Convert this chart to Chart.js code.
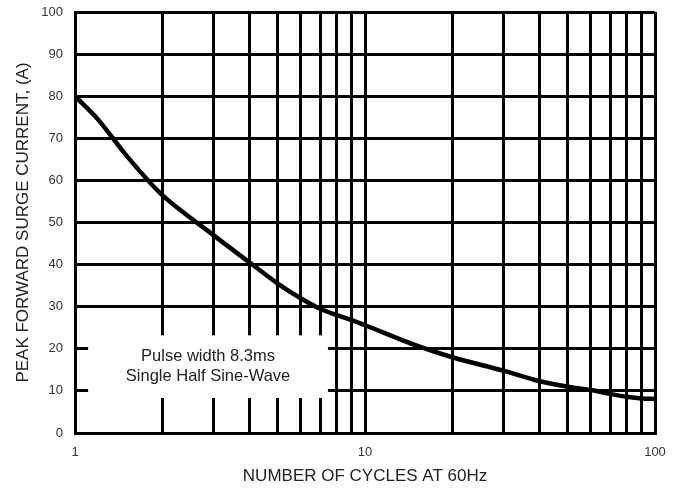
<!DOCTYPE html>
<html>
<head>
<meta charset="utf-8">
<title>Peak Forward Surge Current</title>
<script src="https://cdn.jsdelivr.net/npm/chart.js@4/dist/chart.umd.min.js"></script>
<style>
  html, body { margin: 0; padding: 0; background: #fff; }
  #wrap { width: 686px; height: 492px; }
</style>
</head>
<body>
<div id="wrap"><canvas id="chart"></canvas></div>
<script>
// Curve (number of cycles -> peak current, A)
const cycles  = [1, 1.2, 1.5, 2, 3, 4, 5, 6, 7, 8, 9, 10, 15, 20, 30, 40, 50, 60, 70, 80, 90, 100];
const current = [80, 74.5, 66, 56.5, 47, 40.5, 35.5, 32, 29.5, 28, 26.8, 25.6, 20.8, 18, 14.8, 12.3, 11, 10.2, 9.3, 8.6, 8.2, 8.1];

// Axis ticks
const xGridTicks = [1, 2, 3, 4, 5, 6, 7, 8, 9, 10, 20, 30, 40, 50, 60, 70, 80, 90, 100];
const xTickLabels = [1, 10, 100];
const yTicks = [0, 10, 20, 30, 40, 50, 60, 70, 80, 90, 100];

// Note box (in data units) and its text
const noteLines = ['Pulse width 8.3ms', 'Single Half Sine-Wave'];
const noteRange = { xMin: 1.11, xMax: 7.45, yMin: 8.3, yMax: 23.2 };

const FONT = "'Liberation Sans', Arial, sans-serif";

// White box over the grid with the pulse note
const notePlugin = {
  id: 'note',
  beforeDatasetsDraw(chart) {
    const { ctx, scales: { x, y } } = chart;
    const l = x.getPixelForValue(noteRange.xMin);
    const r = x.getPixelForValue(noteRange.xMax);
    const t = y.getPixelForValue(noteRange.yMax);
    const b = y.getPixelForValue(noteRange.yMin);
    ctx.save();
    ctx.fillStyle = '#fff';
    ctx.fillRect(l, t, r - l, b - t);
    ctx.fillStyle = '#222';
    ctx.font = '16.5px ' + FONT;
    ctx.textAlign = 'center';
    ctx.textBaseline = 'middle';
    const cx = (l + r) / 2;
    const cy = (t + b) / 2;
    ctx.fillText(noteLines[0], cx, cy - 10);
    ctx.fillText(noteLines[1], cx, cy + 10);
    ctx.restore();
  }
};

new Chart(document.getElementById('chart'), {
  type: 'line',
  data: {
    datasets: [{
      data: cycles.map((c, i) => ({ x: c, y: current[i] })),
      borderColor: '#000',
      borderWidth: 4.5,
      pointRadius: 0,
      tension: 0.3,
      fill: false
    }]
  },
  options: {
    responsive: true,
    maintainAspectRatio: false,
    animation: false,
    layout: { padding: { left: 0, right: 31, top: 12, bottom: 0 } },
    plugins: {
      legend: { display: false },
      tooltip: { enabled: false }
    },
    scales: {
      x: {
        type: 'logarithmic',
        min: 1,
        max: 100,
        afterBuildTicks: s => { s.ticks = xGridTicks.map(v => ({ value: v })); },
        afterFit: s => { s.height = 59; s.paddingLeft = 0; s.paddingRight = 0; },
        grid: { color: '#000', lineWidth: 3, drawTicks: false },
        border: { color: '#000', width: 3 },
        ticks: {
          autoSkip: false,
          maxRotation: 0,
          padding: 12,
          color: '#333',
          font: { family: FONT, size: 13 },
          callback: v => xTickLabels.includes(v) ? String(v) : ''
        },
        title: {
          display: true,
          text: 'NUMBER OF CYCLES AT 60Hz',
          color: '#222',
          font: { family: FONT, size: 17 },
          padding: { top: 0, bottom: 5 }
        }
      },
      y: {
        min: 0,
        max: 100,
        afterBuildTicks: s => { s.ticks = yTicks.map(v => ({ value: v })); },
        afterFit: s => { s.width = 75; s.paddingTop = 0; s.paddingBottom = 0; },
        grid: { color: '#000', lineWidth: 3, drawTicks: false },
        border: { color: '#000', width: 3 },
        ticks: {
          padding: 12,
          color: '#333',
          font: { family: FONT, size: 13 }
        },
        title: {
          display: true,
          text: 'PEAK FORWARD SURGE CURRENT, (A)',
          color: '#222',
          font: { family: FONT, size: 17 },
          padding: { top: 13, bottom: 0 }
        }
      }
    }
  },
  plugins: [notePlugin]
});
</script>
</body>
</html>
